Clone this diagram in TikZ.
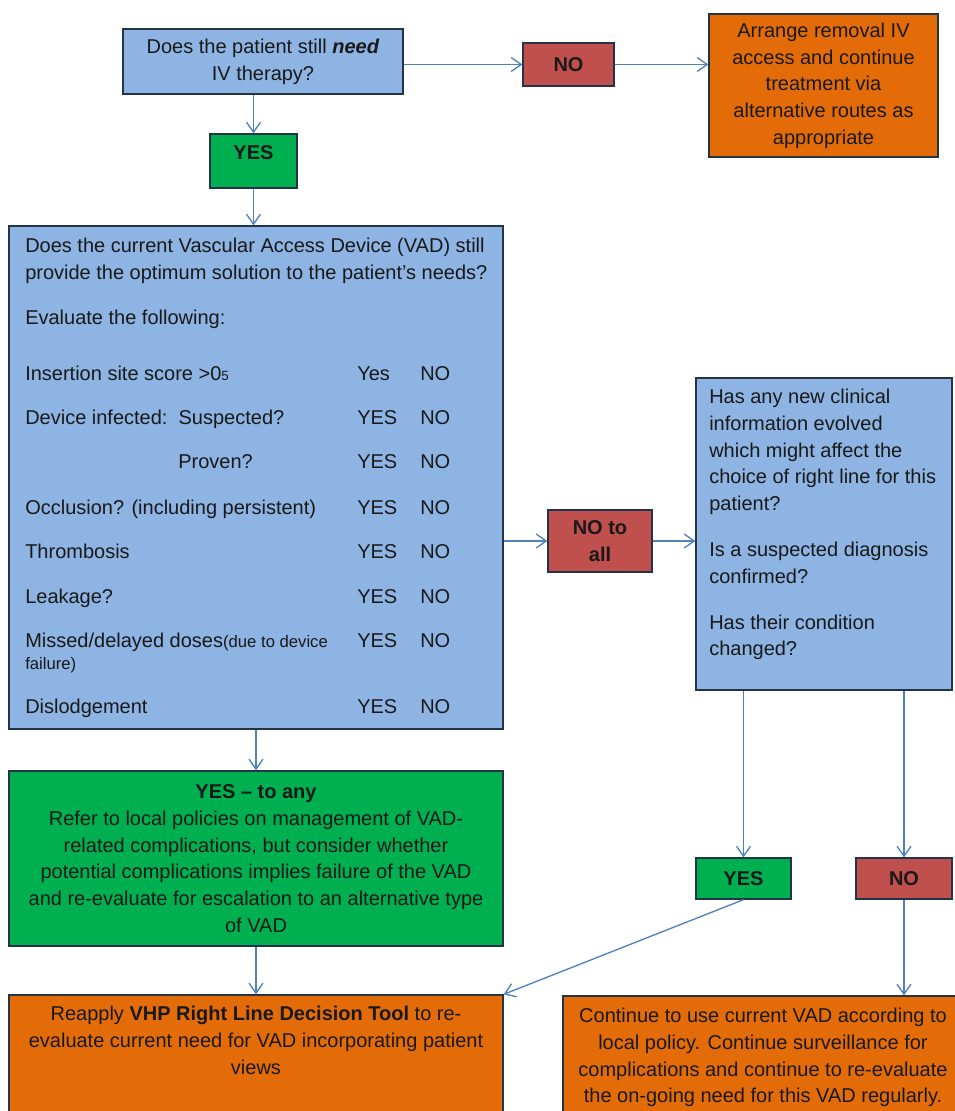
\documentclass[tikz,border=0pt]{standalone}
\usepackage{fontspec}
\setmainfont{Liberation Sans}
\usepackage{tikz}
\usetikzlibrary{arrows.meta,positioning,calc}
\definecolor{BoxBlue}{HTML}{8DB4E2}
\definecolor{BoxGreen}{HTML}{00B050}
\definecolor{BoxRed}{HTML}{C0504D}
\definecolor{BoxOrange}{HTML}{E36C09}
\definecolor{LineBlue}{HTML}{4F81BD}
\definecolor{EdgeDark}{HTML}{243447}
\newcommand{\boxfont}{\fontsize{15pt}{20pt}\selectfont}
\newcommand{\smallfont}{\fontsize{12.5pt}{15pt}\selectfont}
\newcommand{\tinyfont}{\fontsize{10pt}{12pt}\selectfont}

\begin{document}
\begin{tikzpicture}[x=0.75pt, y=-0.75pt,
  every node/.style={font=\boxfont, text=black!90},
  box/.style={draw=EdgeDark, line width=1pt, inner sep=0pt, align=center},
  bluebox/.style={box, fill=BoxBlue},
  greenbox/.style={box, fill=BoxGreen},
  redbox/.style={box, fill=BoxRed, font=\boxfont\bfseries},
  orangebox/.style={box, fill=BoxOrange},
  rowtext/.style={anchor=base west, inner sep=0pt},
  flow/.style={draw=LineBlue, line width=1pt, -{Straight Barb[length=7.5pt,width=10.5pt]}}]
  \useasboundingbox (0,0) rectangle (955,1111);

  % top row
  \node[bluebox, minimum width=210pt, minimum height=48.75pt] (q1) at (263,61.5)
    {Does the patient still \textbf{\textit{need}}\\IV therapy?};
  \node[redbox, minimum width=68.25pt, minimum height=32.25pt] (no1) at (568.5,64.5) {NO};
  \node[orangebox, minimum width=171.75pt, minimum height=107.25pt] (arr) at (823.5,85.5)
    {Arrange removal IV\\access and continue\\treatment via\\alternative routes as\\appropriate};
  \node[greenbox, font=\boxfont\bfseries, text depth=12pt, minimum width=65.25pt, minimum height=40.5pt] (yes1) at (253.5,161) {YES};

  % evaluation box
  \node[bluebox, minimum width=370.5pt, minimum height=377.25pt] (vad) at (256,477.5) {};
  \node[anchor=north west, inner sep=0pt, align=left] (vadq) at (25,238)
    {Does the current Vascular Access Device (VAD) still\\provide the optimum solution to the patient's needs?};
  \node[rowtext] (evalt) at (25,324) {Evaluate the following:};
  \foreach \xx/\yy/\txt/\ans [count=\i] in {
    25/380/{Insertion site score >0{\tinyfont 5}}/Yes,
    25/424/{Device infected:\ \ Suspected?}/YES,
    178/468/{Proven?}/YES,
    25/514/{Occlusion? (including persistent)}/YES,
    25/558/{Thrombosis}/YES,
    25/603/{Leakage?}/YES,
    25/647/{Missed/delayed doses{\smallfont(due to device}}/YES,
    25/713/{Dislodgement}/YES}{
    \node[rowtext] (item\i) at (\xx,\yy) {\txt};
    \node[rowtext] (ans\i) at (357,\yy) {\ans};
    \node[rowtext] (neg\i) at (420,\yy) {NO};
  }
  \node[rowtext, font=\smallfont] (fail) at (25,669) {failure)};

  % right branch
  \node[redbox, minimum width=78pt, minimum height=46.5pt] (noall) at (600,541) {NO to\\all};
  \node[bluebox, minimum width=192pt, minimum height=234pt] (rb) at (824,534) {};
  \node[anchor=north west, inner sep=0pt, align=left] (rbtext) at (709,389)
    {Has any new clinical\\information evolved\\which might affect the\\choice of right line for this\\patient?\\[14.5pt]
     Is a suspected diagnosis\\confirmed?\\[14.5pt]Has their condition\\changed?};
  \node[greenbox, font=\boxfont\bfseries, minimum width=71.25pt, minimum height=30.75pt] (yes2) at (743.5,878.5) {YES};
  \node[redbox, minimum width=72pt, minimum height=30.75pt] (no2) at (904,878.5) {NO};

  % bottom
  \node[greenbox, minimum width=370.5pt, minimum height=131.25pt] (yany) at (256,858.5)
    {\textbf{YES -- to any}\\Refer to local policies on management of VAD-\\related complications, but consider whether\\potential complications implies failure of the VAD\\and re-evaluate for escalation to an alternative type\\of VAD};
  \node[orangebox, minimum width=370.5pt, minimum height=88.5pt] (reap) at (256,1054) {};
  \node[anchor=north, inner sep=0pt, align=center] (reaptext) at (256,1006)
    {Reapply \textbf{VHP Right Line Decision Tool} to re-\\evaluate current need for VAD incorporating patient\\views};
  \node[orangebox, minimum width=299.25pt, minimum height=90pt] (cont) at (762.5,1056) {};
  \node[anchor=north, inner sep=0pt, align=center] (conttext) at (763,1008)
    {Continue to use current VAD according to\\local policy. Continue surveillance for\\complications and continue to re-evaluate\\the on-going need for this VAD regularly.};

  % connectors
  \draw[flow] (q1.east |- no1.west) -- (no1.west);
  \draw[flow] (no1.east) -- (no1.east -| arr.west);
  \draw[flow] (yes1.north |- q1.south) -- (yes1.north);
  \draw[flow] (yes1.south) -- (yes1.south |- vad.north);
  \draw[flow] (vad.east |- noall.west) -- (noall.west);
  \draw[flow] (noall.east) -- (noall.east -| rb.west);
  \draw[flow] (vad.south) -- (yany.north);
  \draw[flow] (yany.south) -- (reap.north);
  \draw[flow] (yes2.north |- rb.south) -- (yes2.north);
  \draw[flow] (no2.north |- rb.south) -- (no2.north);
  \draw[flow] (yes2.south) -- (reap.north east);
  \draw[flow] (no2.south) -- (no2.south |- cont.north);
\end{tikzpicture}
\end{document}
